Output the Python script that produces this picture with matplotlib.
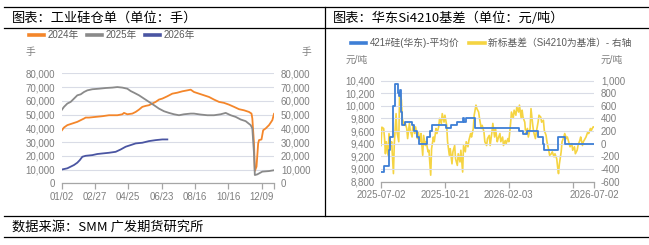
import matplotlib
matplotlib.use('Agg')
import matplotlib.pyplot as plt
from matplotlib.lines import Line2D
from matplotlib.ticker import FuncFormatter

plt.rcParams['font.family'] = ['Liberation Sans', 'Noto Sans CJK SC', 'DejaVu Sans']

# ---- left chart: warehouse receipts (lots), x = trading-day index ----
x_ticks_left = [0, 40, 80, 120, 160, 200, 240]
x_labels_left = ['01/02', '02/27', '04/25', '06/23', '08/16', '10/16', '12/09']

idx_2024 = [0, 3, 7, 13, 19, 23, 27, 29, 33, 41, 49, 57, 67, 73, 75, 79, 85, 89, 93, 97,
            101, 105, 109, 113, 117, 121, 127, 133, 139, 145, 151, 155, 159, 165, 171, 177,
            183, 189, 195, 201, 207, 213, 219, 225, 228, 229, 231, 232, 234, 236, 237, 240,
            242, 245, 249, 253, 255]
val_2024 = [38200, 40600, 42300, 43500, 44700, 45900, 47100, 47800, 47800, 48300, 48800,
            49500, 49500, 50200, 51200, 50200, 50700, 51900, 53600, 55600, 56300, 56800,
            58000, 59200, 60900, 61600, 63300, 65200, 65900, 66900, 67600, 68100, 66400,
            65200, 64000, 62800, 60900, 59200, 58500, 57200, 55600, 53900, 53100, 51900,
            50700, 47100, 29000, 9000, 12100, 29000, 31400, 31900, 38600, 39900, 42300,
            45900, 50500]

idx_2025 = [0, 3, 7, 11, 15, 19, 23, 27, 31, 37, 45, 53, 61, 67, 73, 79, 83, 87, 93, 99,
            105, 111, 117, 123, 129, 135, 141, 147, 155, 159, 167, 175, 183, 191, 197, 203,
            209, 215, 221, 227, 229, 231, 232, 235, 241, 249, 255]
val_2025 = [53100, 55600, 58000, 59200, 61600, 64000, 64700, 66400, 67600, 68400, 68800,
            69300, 69600, 70000, 69600, 68800, 67100, 65900, 64000, 61600, 59200, 56800,
            54300, 52400, 51200, 50200, 49500, 50200, 50700, 50700, 50000, 49500, 49500,
            50200, 51200, 49500, 48300, 46400, 45200, 42300, 39900, 21700, 6000, 6500,
            8500, 8900, 9500]

idx_2026 = [1, 7, 11, 15, 19, 22, 25, 29, 37, 43, 49, 57, 65, 71, 77, 83, 89, 97, 105, 113,
            121, 127]
val_2026 = [10100, 10900, 12100, 13300, 15000, 16900, 19300, 20000, 20500, 21300, 21700,
            22200, 22900, 24600, 26600, 27800, 29000, 29500, 30700, 31400, 31900, 31900]

# ---- right chart: East China Si4210 price and basis ----
x_ticks_right = [0, 72, 144, 216, 240]
x_labels_right = ['2025-07-02', '2025-10-21', '2026-02-03', '', '2026-07-02']

price_idx = [0, 3, 9, 10, 14, 16, 19, 20, 21, 23, 24, 27, 35, 37, 41, 43, 52, 55, 57, 73,
             79, 86, 92, 94, 96, 106, 155, 160, 164, 177, 182, 184, 199, 207, 240]
price_val = [8950, 9050, 9300, 9500, 10000, 10350, 10200, 10150, 10250, 9900, 9700, 9750,
             9700, 9600, 9500, 9400, 9500, 9600, 9700, 9650, 9700, 9750, 9800, 9750, 9800,
             9650, 9600, 9550, 9600, 9500, 9400, 9300, 9500, 9400, 9400]

basis_idx = [0, 1, 3, 4, 5, 6, 8, 9, 11, 12, 14, 15, 17, 18, 20, 21, 23, 24, 26, 27, 29, 30,
             32, 33, 35, 36, 38, 39, 41, 42, 44, 45, 47, 48, 50, 51, 53, 54, 56, 57, 59, 60,
             62, 63, 65, 66, 68, 69, 71, 72, 74, 75, 77, 78, 80, 81, 83, 84, 86, 87, 89, 90,
             92, 93, 95, 96, 98, 99, 101, 102, 104, 105, 107, 108, 110, 111, 113, 114, 116,
             117, 119, 120, 122, 123, 125, 126, 128, 129, 131, 132, 134, 135, 137, 138, 140,
             141, 143, 144, 146, 147, 149, 150, 152, 153, 155, 156, 158, 159, 160, 162, 163,
             165, 166, 168, 169, 171, 172, 174, 175, 177, 178, 180, 181, 183, 184, 186, 187,
             189, 190, 192, 193, 195, 196, 198, 199, 200, 201, 203, 204, 206, 207, 209, 210,
             212, 213, 215, 216, 218, 219, 221, 222, 224, 225, 227, 228, 230, 231, 233, 234,
             236, 237, 239, 240]
basis_val = [-30, 260, 240, 80, -160, 30, -185, 160, -30, 30, -475, 0, 475, 185, 30, 820,
             690, 400, 290, 340, 240, 80, 320, 210, 105, 290, 160, 265, 80, 185, 30, 160,
             -185, 130, -30, 30, -130, -105, -500, -80, 105, 30, 240, 160, 265, 400, 320,
             475, 340, 450, 290, 30, -185, -80, -320, -130, -30, -240, -345, -160, -290,
             -105, -450, -30, -130, 30, -50, 50, 160, 105, 240, 450, 610, 555, 500, 400, 240,
             290, 185, 30, -30, 80, 130, -30, 185, 320, 105, 240, 30, 80, 160, 30, 105, -30,
             50, 0, 80, 30, 320, 500, 400, 530, 450, 580, 500, 610, 400, 530, 420, 340, 160,
             240, 105, 240, 555, 290, 185, 80, 185, 340, 450, 420, 340, 370, 210, 130, 30,
             -105, -185, -160, -130, -210, -160, -240, -370, -475, -320, -130, 30, 105, 160,
             80, 105, 0, -50, 0, -105, -50, -160, -105, -30, 50, 105, -30, 30, 80, 105, 185,
             160, 240, 210, 265, 265]

TICK_GREY = '#7f7f7f'
GRID = '#d9dce6'
W, H = 649, 245


def fx(px):
    return px / W


def fy(py):
    return 1 - py / H


def style_axes(ax):
    for s in ['top', 'left', 'right']:
        ax.spines[s].set_visible(False)
    ax.spines['bottom'].set_color('#a6a6a6')
    ax.spines['bottom'].set_linewidth(0.9)
    ax.tick_params(axis='x', colors='#a6a6a6', labelcolor=TICK_GREY, labelsize=7,
                   length=4, width=0.9, pad=2)
    ax.tick_params(axis='y', length=0, labelcolor=TICK_GREY, labelsize=7, pad=4.5)
    ax.yaxis.grid(True, color=GRID, linewidth=0.8)
    ax.set_axisbelow(True)


comma = FuncFormatter(lambda v, p: f'{int(v):,}')

fig = plt.figure(figsize=(6.49, 2.45), dpi=100)

# table rules
for yy in [7, 28, 216, 237]:
    fig.add_artist(Line2D([fx(4), 1], [fy(yy), fy(yy)], color='black', lw=0.9))
fig.add_artist(Line2D([fx(325), fx(325)], [fy(7), fy(216)], color='black', lw=0.9))

title_font = ['Noto Sans CJK SC', 'DejaVu Sans']
fig.text(fx(12), fy(18), '图表：工业硅仓单（单位：手）', fontsize=9.5, family=title_font,
         weight='light', va='center', ha='left')
fig.text(fx(333), fy(18), '图表：华东Si4210基差（单位：元/吨）', fontsize=9.5,
         family=title_font, weight='light', va='center', ha='left')
fig.text(fx(12), fy(227), '数据来源：SMM 广发期货研究所', fontsize=9.5, family=title_font,
         weight='light', va='center', ha='left')

# ---- left chart ----
axL = fig.add_axes([fx(61.5), fy(183.3), fx(274 - 61.5), (183.3 - 73.3) / H])
axL.plot(idx_2024, val_2024, color='#f4862a', lw=1.3)
axL.plot(idx_2025, val_2025, color='#8a8a8a', lw=1.3)
axL.plot(idx_2026, val_2026, color='#4a55a2', lw=1.3)
axL.set_xlim(0, 255)
axL.set_ylim(0, 80000)
axL.set_yticks(range(0, 80001, 10000))
axL.yaxis.set_major_formatter(comma)
axL.set_xticks(x_ticks_left + [255])
axL.set_xticklabels(x_labels_left + [''])
style_axes(axL)
axL2 = axL.twinx()
axL2.set_ylim(0, 80000)
axL2.set_yticks(range(0, 80001, 10000))
axL2.yaxis.set_major_formatter(comma)
for s in ['top', 'left', 'right', 'bottom']:
    axL2.spines[s].set_visible(False)
axL2.tick_params(axis='y', length=0, labelcolor=TICK_GREY, labelsize=7, pad=5)

fig.text(fx(30), fy(52), '手', fontsize=7, color=TICK_GREY, ha='center', va='center')
fig.text(fx(306), fy(52), '手', fontsize=7, color=TICK_GREY, ha='center', va='center')

hL = [Line2D([], [], color='#f4862a', lw=2.6),
      Line2D([], [], color='#8a8a8a', lw=2.6),
      Line2D([], [], color='#4a55a2', lw=2.6)]
fig.legend(hL, ['2024年', '2025年', '2026年'], loc='center left',
           bbox_to_anchor=(fx(29), fy(35)), ncol=3, frameon=False, fontsize=7,
           handlelength=1.55, handletextpad=0.4, columnspacing=0.8, borderpad=0,
           borderaxespad=0, labelcolor='#595959')

# ---- right chart ----
axR = fig.add_axes([fx(381), fy(181.5), fx(594 - 381), (181.5 - 80.5) / H])
axR.plot(price_idx, price_val, color='#3e7fd6', lw=1.3, drawstyle='steps-post', zorder=3)
axR.set_xlim(0, 240)
axR.set_ylim(8800, 10400)
axR.set_yticks(range(8800, 10401, 200))
axR.yaxis.set_major_formatter(comma)
axR.set_xticks(x_ticks_right)
axR.set_xticklabels(x_labels_right)
style_axes(axR)
axR2 = axR.twinx()
axR2.plot(basis_idx, basis_val, color='#f5d442', lw=1.2, zorder=2)
axR2.set_ylim(-600, 1000)
axR2.set_yticks(range(-600, 1001, 200))
axR2.yaxis.set_major_formatter(comma)
for s in ['top', 'left', 'right', 'bottom']:
    axR2.spines[s].set_visible(False)
axR2.tick_params(axis='y', length=0, labelcolor=TICK_GREY, labelsize=7, pad=5)
axR.set_zorder(axR2.get_zorder() + 1)
axR.patch.set_visible(False)

fig.text(fx(357), fy(60), '元/吨', fontsize=7, color=TICK_GREY, ha='center', va='center')
fig.text(fx(612), fy(60), '元/吨', fontsize=7, color=TICK_GREY, ha='center', va='center')

hR = [Line2D([], [], color='#3e7fd6', lw=2.6),
      Line2D([], [], color='#f5d442', lw=2.6)]
fig.legend(hR, ['421#硅(华东)-平均价', '新标基差（Si4210为基准）- 右轴'], loc='center left',
           bbox_to_anchor=(fx(351), fy(43)), ncol=2, frameon=False, fontsize=7,
           handlelength=1.55, handletextpad=0.4, columnspacing=1.0, borderpad=0,
           borderaxespad=0, labelcolor='#595959')

fig.savefig('out.png', dpi=100)
